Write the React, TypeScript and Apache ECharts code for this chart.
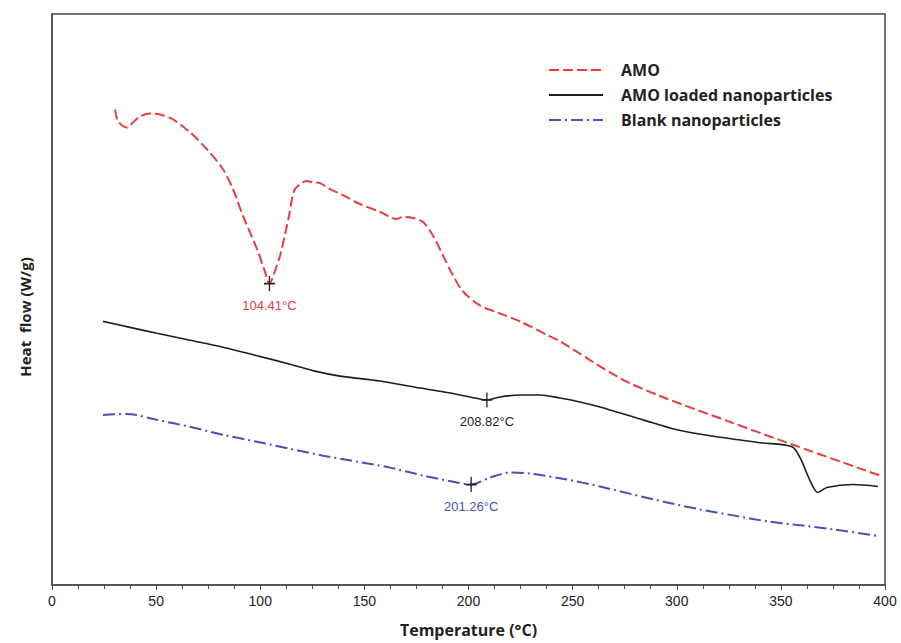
import React, { useEffect, useRef } from "react";
import * as echarts from "echarts";

const seriesNames = ["AMO", "AMO loaded nanoparticles", "Blank nanoparticles"];

// Temperature (°C), Heat flow (arbitrary W/g units)
const amoTemp = [30.3, 31.7, 36.0, 38.9, 42.3, 47.1, 51.9, 58.1, 66.3, 74.4, 82.1, 86.9, 91.7, 98.4, 101.8, 104.4, 107.1, 109.5, 112.8, 113.8, 116.2, 119.1, 122.4, 124.9, 128.7, 133.5, 140.7, 147.9, 157.5, 165.7, 168.5, 173.3, 178.2, 183.0, 187.8, 192.6, 197.4, 205.5, 215.1, 224.7, 239.1, 243.9, 272.7, 292.0, 324.1, 355.8, 397.6];
const amoFlow = [4.78, 4.66, 4.60, 4.65, 4.71, 4.74, 4.73, 4.68, 4.55, 4.38, 4.18, 3.98, 3.71, 3.38, 3.18, 3.03, 3.16, 3.31, 3.61, 3.71, 3.96, 4.03, 4.06, 4.05, 4.04, 3.98, 3.91, 3.83, 3.75, 3.68, 3.70, 3.69, 3.65, 3.51, 3.31, 3.11, 2.95, 2.81, 2.73, 2.65, 2.50, 2.45, 2.08, 1.90, 1.65, 1.41, 1.10];

const loadedTemp = [24.5, 37.5, 50.4, 66.3, 82.1, 97.5, 114.3, 126.3, 138.3, 157.5, 176.7, 191.1, 200.7, 208.9, 215.1, 224.7, 234.3, 243.9, 253.5, 263.1, 283.8, 300.1, 316.0, 340.0, 355.3, 359.2, 364.0, 367.8, 372.1, 384.6, 396.6];
const loadedFlow = [2.65, 2.59, 2.53, 2.46, 2.39, 2.31, 2.22, 2.15, 2.10, 2.05, 1.98, 1.93, 1.89, 1.86, 1.89, 1.91, 1.91, 1.88, 1.84, 1.79, 1.66, 1.56, 1.50, 1.43, 1.39, 1.28, 1.05, 0.93, 0.98, 1.01, 0.99];

const blankTemp = [24.5, 36.0, 50.4, 66.3, 82.1, 98.4, 114.3, 130.1, 146.5, 162.3, 178.2, 194.5, 201.2, 210.3, 219.9, 229.5, 247.3, 263.1, 279.0, 295.3, 311.2, 327.0, 343.3, 359.2, 375.0, 397.6];
const blankFlow = [1.71, 1.72, 1.66, 1.59, 1.51, 1.44, 1.37, 1.30, 1.24, 1.18, 1.10, 1.03, 1.01, 1.08, 1.13, 1.12, 1.06, 0.99, 0.91, 0.83, 0.76, 0.70, 0.64, 0.60, 0.56, 0.49];

// Peak annotations: [temperature, heat flow]
const peakTemps = [104.41, 208.82, 201.26];
const peakFlows = [3.03, 1.86, 1.01];
const peakLabels = ["104.41°C", "208.82°C", "201.26°C"];

const colors = ["#ec3a3f", "#1e1e1e", "#4652b4"];

const plusPath = "path://M4.4,0H5.6V4.4H10V5.6H5.6V10H4.4V5.6H0V4.4H4.4Z";

function zip(xs: number[], ys: number[]) {
  return xs.map((x, i) => [x, ys[i]]);
}

export default function App() {
  const ref = useRef<HTMLDivElement>(null);
  useEffect(() => {
    if (!ref.current) return;
    const chart = echarts.init(ref.current, null, { renderer: "svg" });
    const dataSets = [zip(amoTemp, amoFlow), zip(loadedTemp, loadedFlow), zip(blankTemp, blankFlow)];
    const lineStyles = [
      { color: colors[0], width: 2, type: [10, 4] as any },
      { color: colors[1], width: 1.6, type: "solid" as any },
      { color: colors[2], width: 2, type: [12, 4, 2, 4] as any },
    ];
    const series = seriesNames.map((name, i) => ({
      name,
      type: "line",
      data: dataSets[i],
      smooth: 0.3,
      showSymbol: false,
      symbol: "none",
      lineStyle: lineStyles[i],
      itemStyle: { color: colors[i] },
      markPoint: {
        symbol: plusPath,
        symbolSize: [11, 15],
        itemStyle: { color: "#222" },
        label: {
          show: true,
          position: "bottom",
          distance: 8,
          formatter: peakLabels[i],
          color: colors[i],
          fontSize: 13,
          fontFamily: "Liberation Sans, Arial, sans-serif",
        },
        data: [{ coord: [peakTemps[i], peakFlows[i]] }],
      },
    }));
    chart.setOption({
      animation: false,
      backgroundColor: "#fff",
      grid: {
        left: 52,
        right: 16,
        top: 14,
        bottom: 55,
        show: true,
        borderColor: "#4a4a4a",
        borderWidth: 1.5,
      },
      legend: {
        orient: "vertical",
        left: 543,
        top: 57,
        itemWidth: 54,
        itemHeight: 14,
        itemGap: 9,
        itemStyle: { opacity: 0 },
        textStyle: {
          fontFamily: "Open Sans, sans-serif",
          fontWeight: 700,
          fontSize: 16,
          color: "#222",
          padding: [0, 0, 0, 13],
        },
        data: seriesNames,
      },
      graphic: [
        {
          type: "text",
          x: 25,
          y: 317,
          rotation: Math.PI / 2,
          style: {
            text: "Heat  flow (W/g)",
            textAlign: "center",
            textVerticalAlign: "middle",
            fontFamily: "Open Sans, sans-serif",
            fontWeight: 700,
            fontSize: 15,
            fill: "#222",
          },
        },
      ],
      xAxis: {
        type: "value",
        min: 0,
        max: 400,
        interval: 50,
        name: "Temperature (°C)",
        nameLocation: "middle",
        nameGap: 37,
        nameTextStyle: {
          fontFamily: "Open Sans, sans-serif",
          fontWeight: 700,
          fontSize: 16,
          color: "#222",
        },
        axisLine: { show: true, lineStyle: { color: "#4a4a4a", width: 1.5 } },
        axisTick: { show: true, length: 5, lineStyle: { color: "#4a4a4a" } },
        minorTick: { show: true, splitNumber: 4, length: 4, lineStyle: { color: "#4a4a4a" } },
        axisLabel: {
          fontFamily: "Liberation Sans Narrow, Liberation Sans, Arial, sans-serif",
          fontSize: 14,
          color: "#222",
          margin: 9,
        },
        splitLine: { show: false },
      },
      yAxis: {
        type: "value",
        min: 0,
        max: 5.74,
        axisLine: { show: true, lineStyle: { color: "#4a4a4a", width: 1.5 } },
        axisTick: { show: false },
        axisLabel: { show: false },
        splitLine: { show: false },
      },
      series,
    });
    return () => chart.dispose();
  }, []);
  return (
    <div
      ref={ref}
      style={{ position: "absolute", left: 0, top: 0, width: 901, height: 643 }}
    />
  );
}
